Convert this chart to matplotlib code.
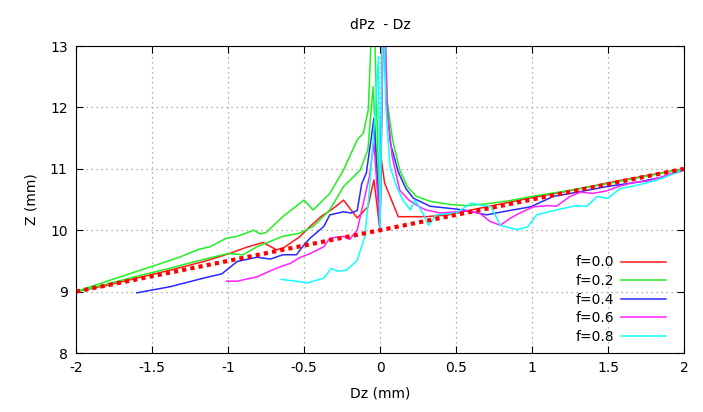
import numpy as np
import matplotlib
matplotlib.use('Agg')
import matplotlib.pyplot as plt

# dPz - Dz : Z en fonction de Dz pour plusieurs f
dz_f00 = [-2.0, -1.8, -1.6, -1.38, -1.16, -0.99, -0.88, -0.77, -0.68, -0.63, -0.53, -0.46, -0.39, -0.31,
          -0.24, -0.15, -0.08, -0.04, 0.0, 0.005, 0.03, 0.12, 0.3, 0.45, 0.6, 0.8, 1.0, 1.2, 1.4, 1.6, 1.8, 2.0]
z_f00 = [9.0, 9.1, 9.22, 9.35, 9.49, 9.62, 9.72, 9.80, 9.68, 9.72, 9.89, 10.06, 10.22, 10.35,
         10.49, 10.2, 10.38, 10.82, 10.0, 11.22, 10.77, 10.22, 10.22, 10.25, 10.33, 10.43, 10.53, 10.62, 10.72, 10.82, 10.91, 11.0]

dz_f02_a = [-2.0, -1.82, -1.5, -1.32, -1.19, -1.12, -1.01, -0.94, -0.83, -0.79, -0.75, -0.64, -0.50, -0.44,
            -0.33, -0.24, -0.15, -0.11, -0.077, -0.044, 0.0, 0.025, 0.046, 0.083, 0.13, 0.18, 0.24, 0.33, 0.46,
            0.57, 0.70, 0.85, 1.0, 1.25, 1.5, 1.75, 2.0]
z_f02_a = [9.0, 9.15, 9.41, 9.56, 9.69, 9.73, 9.87, 9.90, 10.0, 9.94, 9.96, 10.22, 10.49, 10.33,
           10.6, 10.98, 11.47, 11.58, 11.96, 14.0, 10.0, 14.0, 12.12, 11.47, 10.98, 10.71, 10.55, 10.47, 10.42,
           10.40, 10.43, 10.48, 10.55, 10.65, 10.76, 10.88, 11.0]
dz_f02_b = [-2.0, -1.8, -1.6, -1.4, -1.2, -1.0, -0.9, -0.81, -0.72, -0.64, -0.53, -0.44, -0.33, -0.24,
            -0.13, -0.08, -0.045, 0.0]
z_f02_b = [9.0, 9.12, 9.25, 9.37, 9.5, 9.62, 9.60, 9.73, 9.82, 9.90, 9.95, 10.06, 10.33, 10.71,
           10.98, 11.31, 12.34, 10.0]

dz_f04 = [-1.6, -1.38, -1.16, -1.04, -0.94, -0.81, -0.72, -0.64, -0.55, -0.5, -0.46, -0.37, -0.33, -0.24,
          -0.19, -0.15, -0.12, -0.09, -0.04, 0.0, 0.02, 0.04, 0.07, 0.12, 0.17, 0.22, 0.33, 0.48, 0.55,
          0.70, 0.85, 0.99, 1.14, 1.3, 1.49, 1.69, 1.85, 2.0]
z_f04 = [8.98, 9.08, 9.22, 9.29, 9.49, 9.56, 9.53, 9.60, 9.60, 9.76, 9.87, 10.06, 10.25, 10.30,
         10.28, 10.32, 10.76, 10.93, 11.82, 10.0, 14.0, 12.1, 11.4, 10.95, 10.68, 10.52, 10.39, 10.35, 10.33,
         10.25, 10.32, 10.38, 10.55, 10.62, 10.71, 10.78, 10.86, 10.98]

dz_f06 = [-1.01, -0.94, -0.81, -0.72, -0.66, -0.59, -0.53, -0.46, -0.37, -0.33, -0.24, -0.2, -0.15, -0.11,
          -0.07, -0.04, 0.0, 0.025, 0.05, 0.08, 0.13, 0.19, 0.24, 0.3, 0.4, 0.5, 0.58, 0.66, 0.72, 0.79,
          0.86, 0.92, 1.01, 1.10, 1.16, 1.25, 1.32, 1.40, 1.49, 1.58, 1.67, 1.76, 1.86, 2.0]
z_f06 = [9.17, 9.17, 9.24, 9.34, 9.40, 9.46, 9.55, 9.62, 9.73, 9.87, 9.9, 9.85, 10.0, 10.44,
         10.87, 11.41, 10.06, 14.0, 11.9, 11.2, 10.65, 10.49, 10.41, 10.33, 10.28, 10.3, 10.32, 10.27, 10.15, 10.08,
         10.2, 10.28, 10.38, 10.40, 10.39, 10.55, 10.62, 10.60, 10.64, 10.72, 10.78, 10.80, 10.87, 11.0]

dz_f08 = [-0.65, -0.5, -0.48, -0.37, -0.32, -0.28, -0.22, -0.15, -0.10, -0.07, -0.03, -0.01, 0.0, 0.02,
          0.04, 0.066, 0.11, 0.15, 0.2, 0.23, 0.27, 0.32, 0.37, 0.5, 0.6, 0.68, 0.73, 0.77, 0.79, 0.9,
          0.97, 1.03, 1.16, 1.29, 1.36, 1.43, 1.5, 1.58, 1.67, 1.8, 1.86, 1.93, 2.0]
z_f08 = [9.2, 9.15, 9.14, 9.22, 9.38, 9.33, 9.35, 9.51, 9.89, 10.65, 11.96, 12.83, 10.0, 14.0,
         11.96, 11.03, 10.71, 10.49, 10.33, 10.49, 10.33, 10.08, 10.25, 10.28, 10.44, 10.40, 10.38, 10.19, 10.08, 10.01,
         10.05, 10.25, 10.33, 10.40, 10.39, 10.55, 10.52, 10.68, 10.72, 10.8, 10.85, 10.92, 11.0]

# droite de reference (pointillés rouges)
dz_ref = [-2.0, 2.0]
z_ref = [9.0, 11.0]

fig = plt.figure(figsize=(7.03, 4.12), dpi=100)
ax = fig.add_axes([0.1081, 0.1432, 0.8649, 0.7451])

ax.plot(dz_f00, z_f00, color='#ff1a1a', lw=1.1, label='f=0.0')
ax.plot(dz_f02_a, z_f02_a, color='#22ee22', lw=1.1, label='f=0.2')
ax.plot(dz_f02_b, z_f02_b, color='#22ee22', lw=1.1)
ax.plot(dz_f04, z_f04, color='#2a2aff', lw=1.1, label='f=0.4')
ax.plot(dz_f06, z_f06, color='#ff22ff', lw=1.1, label='f=0.6')
ax.plot(dz_f08, z_f08, color='#11ffff', lw=1.1, label='f=0.8')
ax.plot(dz_ref, z_ref, color='#ff0000', lw=3, linestyle=(0, (1, 1)))

ax.set_xlim(-2, 2)
ax.set_ylim(8, 13)
ax.set_xticks(np.arange(-2, 2.01, 0.5))
ax.set_xticklabels(['-2', '-1.5', '-1', '-0.5', '0', '0.5', '1', '1.5', '2'])
ax.set_yticks(range(8, 14))
ax.tick_params(direction='in', top=True, right=True, length=5, labelsize=10, pad=6)
ax.grid(True, color='#999999', linestyle=(0, (1, 3)), lw=0.9)

ax.set_title('dPz  - Dz', fontsize=10, pad=12)
ax.set_xlabel('Dz (mm)', fontsize=10, labelpad=8)
ax.set_ylabel('Z (mm)', fontsize=10, labelpad=8)

ax.legend(loc='lower right', bbox_to_anchor=(0.97, 0.03), frameon=False, markerfirst=False,
          fontsize=10, handlelength=3.2, handletextpad=0.5, labelspacing=0.33,
          borderaxespad=0, borderpad=0)

fig.savefig('out.png', dpi=100)
